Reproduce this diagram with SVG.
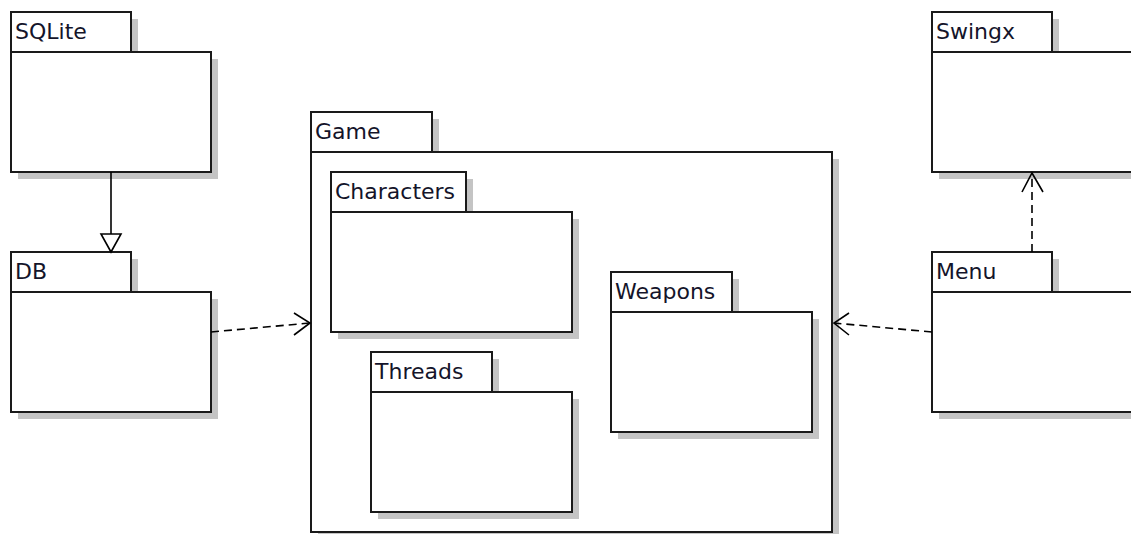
<svg xmlns="http://www.w3.org/2000/svg" width="1131" height="534" viewBox="0 0 1131 534">
<style>
.sh{fill:#c4c4c4;stroke:none}
.pk{fill:#fff;stroke:#1a1a1a;stroke-width:2}
.lbl{font-family:"DejaVu Sans","Liberation Sans",sans-serif;font-size:22px;fill:#14142a}
.dep{fill:none;stroke:#000;stroke-width:1.6;stroke-dasharray:8,5}
.head{fill:none;stroke:#000;stroke-width:1.6}
.gen{fill:none;stroke:#000;stroke-width:1.6}
</style>
<rect width="1131" height="534" fill="#fff"/>
<g id="game">
<rect class="sh" x="318" y="119" width="121" height="40"/>
<rect class="sh" x="318" y="159" width="521" height="380"/>
<rect class="pk" x="311" y="112" width="121" height="40"/>
<rect class="pk" x="311" y="152" width="521" height="380"/>
<text class="lbl" x="315" y="139">Game</text>
</g>
<g id="characters">
<rect class="sh" x="338" y="179" width="135" height="40"/>
<rect class="sh" x="338" y="219" width="241" height="120"/>
<rect class="pk" x="331" y="172" width="135" height="40"/>
<rect class="pk" x="331" y="212" width="241" height="120"/>
<text class="lbl" x="335" y="199">Characters</text>
</g>
<g id="threads">
<rect class="sh" x="378" y="359" width="121" height="40"/>
<rect class="sh" x="378" y="399" width="201" height="120"/>
<rect class="pk" x="371" y="352" width="121" height="40"/>
<rect class="pk" x="371" y="392" width="201" height="120"/>
<text class="lbl" x="375" y="379">Threads</text>
</g>
<g id="weapons">
<rect class="sh" x="618" y="279" width="121" height="40"/>
<rect class="sh" x="618" y="319" width="201" height="120"/>
<rect class="pk" x="611" y="272" width="121" height="40"/>
<rect class="pk" x="611" y="312" width="201" height="120"/>
<text class="lbl" x="615" y="299">Weapons</text>
</g>
<g id="sqlite">
<rect class="sh" x="18" y="19" width="120" height="40"/>
<rect class="sh" x="18" y="59" width="200" height="120"/>
<rect class="pk" x="11" y="12" width="120" height="40"/>
<rect class="pk" x="11" y="52" width="200" height="120"/>
<text class="lbl" x="15" y="39">SQLite</text>
</g>
<g id="db">
<rect class="sh" x="18" y="259" width="120" height="40"/>
<rect class="sh" x="18" y="299" width="200" height="120"/>
<rect class="pk" x="11" y="252" width="120" height="40"/>
<rect class="pk" x="11" y="292" width="200" height="120"/>
<text class="lbl" x="15" y="279">DB</text>
</g>
<g id="swingx">
<rect class="sh" x="939" y="19" width="120" height="40"/>
<rect class="sh" x="939" y="59" width="220" height="120"/>
<rect class="pk" x="932" y="12" width="120" height="40"/>
<rect class="pk" x="932" y="52" width="220" height="120"/>
<text class="lbl" x="936" y="39">Swingx</text>
</g>
<g id="menu">
<rect class="sh" x="939" y="259" width="120" height="40"/>
<rect class="sh" x="939" y="299" width="220" height="120"/>
<rect class="pk" x="932" y="252" width="120" height="40"/>
<rect class="pk" x="932" y="292" width="220" height="120"/>
<text class="lbl" x="936" y="279">Menu</text>
</g>
<g id="connectors">
<line class="gen" x1="111" y1="172" x2="111" y2="234"/>
<polygon points="101,234 121,234 111,252" fill="#fff" stroke="#000" stroke-width="1.6"/>
<line class="dep" x1="211" y1="332" x2="310" y2="323"/>
<polyline class="head" points="294,313 310,323 294,335"/>
<line class="dep" x1="932" y1="332" x2="834" y2="323"/>
<polyline class="head" points="849,313 834,323 849,335"/>
<line class="dep" x1="1032" y1="252" x2="1032" y2="173"/>
<polyline class="head" points="1022,192 1032,173 1043,192"/>
</g>
</svg>
